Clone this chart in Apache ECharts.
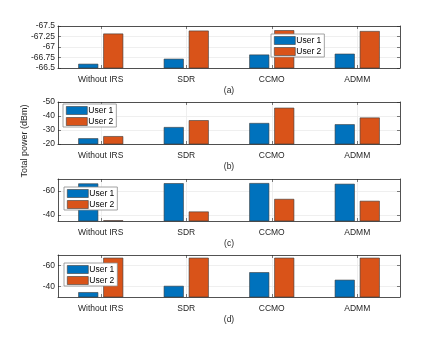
<!DOCTYPE html>
<html>
<head>
<meta charset="utf-8">
<script src="https://cdn.jsdelivr.net/npm/echarts@6/dist/echarts.min.js"></script>
<style>
	html, body { margin: 0; padding: 0; background: #fff; }
	#chart { width: 443px; height: 349px; }
</style>
</head>
<body>
<div id="chart"></div>
<script>
var categories = ["Without IRS", "SDR", "CCMO", "ADMM"];
var seriesNames = ["User 1", "User 2"];
var captions = ["(a)", "(b)", "(c)", "(d)"];

/* values per panel, in dBm */
var panelA_user1 = [-66.60, -66.72, -66.82, -66.84];
var panelA_user2 = [-67.32, -67.39, -67.40, -67.38];
var panelB_user1 = [-24.1, -32.1, -35.0, -34.1];
var panelB_user2 = [-25.6, -37.0, -45.9, -38.9];
var panelC_user1 = [-66.3, -66.5, -66.6, -66.0];
var panelC_user2 = [-35.6, -42.9, -53.4, -51.8];
var panelD_user1 = [-34.6, -40.6, -53.6, -46.4];
var panelD_user2 = [-67.4, -67.4, -67.4, -67.4];

/* y ranges and ticks per panel */
var yMins = [-67.5, -50, -70, -70];
var yMaxs = [-66.5, -20, -35, -30];
var yTicksA = [-67.5, -67.25, -67, -66.75, -66.5];
var yTicksB = [-50, -40, -30, -20];
var yTicksC = [-60, -40];
var yTicksD = [-60, -40];

var panelData = [
	[panelA_user1, panelA_user2],
	[panelB_user1, panelB_user2],
	[panelC_user1, panelC_user2],
	[panelD_user1, panelD_user2]
];
var panelTicks = [yTicksA, yTicksB, yTicksC, yTicksD];

var gridTops = [26, 102, 179, 255];
var gridHeight = 42;
var legendPos = [
	{ left: 271, top: 34 },
	{ left: 63, top: 104 },
	{ left: 64, top: 187 },
	{ left: 64, top: 263 }
];
var colors = ["#0072BD", "#D95319"];
var axisColor = "#262626";
var fontName = "Liberation Sans, Arial, sans-serif";

function yAxisFor(i, onRight) {
	return {
		type: "value",
		gridIndex: i,
		position: onRight ? "right" : "left",
		inverse: true,
		min: yMins[i],
		max: yMaxs[i],
		axisLine: { show: true, lineStyle: { color: axisColor, width: 0.8 } },
		axisTick: { show: true, inside: true, length: 3, customValues: panelTicks[i],
			lineStyle: { color: axisColor, width: 0.6 } },
		axisLabel: { show: !onRight, customValues: panelTicks[i], margin: 3,
			color: axisColor, fontSize: 8.5, fontFamily: fontName },
		splitLine: { show: !onRight, lineStyle: { color: "#ebebeb", width: 0.8 } }
	};
}

function xAxisFor(i, onTop) {
	return {
		type: "category",
		gridIndex: i,
		position: onTop ? "top" : "bottom",
		data: categories,
		axisLine: { show: true, onZero: false, lineStyle: { color: axisColor, width: 0.8 } },
		axisTick: { show: true, inside: true, length: 3, alignWithLabel: true,
			lineStyle: { color: axisColor, width: 0.6 } },
		axisLabel: { show: !onTop, margin: 7, color: axisColor, fontSize: 8.5, fontFamily: fontName },
		splitLine: { show: !onTop, alignWithLabel: true, lineStyle: { color: "#ebebeb", width: 0.8 } },
		name: onTop ? "" : captions[i],
		nameLocation: "middle",
		nameGap: 18,
		nameTextStyle: { color: axisColor, fontSize: 8.5, fontFamily: fontName }
	};
}

var grids = [], xAxes = [], yAxes = [], series = [], legends = [];
for (var i = 0; i < 4; i++) {
	grids.push({ left: 58, right: 43, top: gridTops[i], height: gridHeight,
		show: false });
	xAxes.push(xAxisFor(i, false));
	yAxes.push(yAxisFor(i, false));
	for (var s = 0; s < 2; s++) {
		series.push({
			type: "bar",
			name: seriesNames[s],
			xAxisIndex: i,
			yAxisIndex: i,
			data: panelData[i][s],
			barWidth: 20,
			barGap: "25%",
			clip: true,
			itemStyle: { color: colors[s], borderColor: "#3a3a3a", borderWidth: 0.6 },
			emphasis: { disabled: true },
			z: 3
		});
	}
	legends.push({
		orient: "vertical",
		left: legendPos[i].left,
		top: legendPos[i].top,
		data: seriesNames,
		icon: "rect",
		itemWidth: 21,
		itemHeight: 8,
		itemGap: 2,
		padding: [2, 3, 1, 3],
		backgroundColor: "#fff",
		borderColor: "#8c8c8c",
		borderWidth: 0.8,
		borderRadius: 0,
		itemStyle: { borderWidth: 0.6, borderColor: "#3a3a3a" },
		textStyle: { color: "#000", fontSize: 8.5, fontFamily: fontName, padding: [0, 0, 0, -4] },
		selectedMode: false,
		z: 10
	});
}
/* box: top x axes and right y axes with ticks only */
for (var j = 0; j < 4; j++) {
	xAxes.push(xAxisFor(j, true));
	yAxes.push(yAxisFor(j, true));
}

var chart = echarts.init(document.getElementById("chart"), null, { renderer: "canvas" });
chart.setOption({
	animation: false,
	backgroundColor: "#fff",
	grid: grids,
	xAxis: xAxes,
	yAxis: yAxes,
	legend: legends,
	series: series,
	graphic: [{
		type: "text",
		x: 25,
		y: 141,
		rotation: Math.PI / 2,
		style: {
			text: "Total power (dBm)",
			fill: axisColor,
			font: "9px " + fontName,
			textAlign: "center",
			textVerticalAlign: "middle"
		}
	}]
});
</script>
</body>
</html>
